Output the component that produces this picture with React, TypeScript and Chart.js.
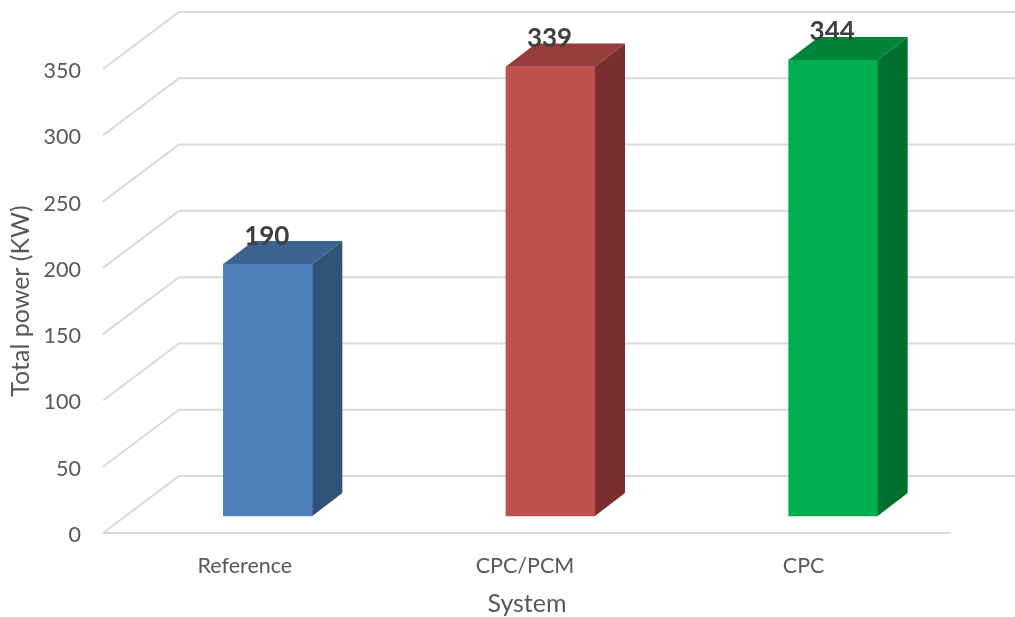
import React, { useEffect, useRef } from "react";
import { Chart, registerables } from "chart.js";

Chart.register(...registerables);

const categories = ["Reference", "CPC/PCM", "CPC"];
const totalPower = [190, 339, 344];
const frontColors = ["#4f81bd", "#c0504d", "#00b050"];
const topColors = ["#3b6291", "#953d3b", "#008439"];
const sideColors = ["#315378", "#7a2f2e", "#00702f"];

const FONT = "Lato, Carlito, Calibri, sans-serif";
const GRID = "#d9d9d9";
// 3D projection of the plot: wall depth, bar depth, and the bar's offset into the floor
const WALL = { dx: 76, dy: -57 };
const BAR_DEPTH = { dx: 30, dy: -23 };
const BAR_SHIFT = { dx: 23.5, dy: -17 };

const plot3d = {
  id: "plot3d",
  beforeDraw(chart: any) {
    // The reference's category captions are spaced slightly tighter than its bars.
    const xs = chart.scales.x;
    xs.getLabelItems().forEach((it: any, i: number) => {
      if (!it.__moved) {
        it.options.translation[0] += [0.5, -2, -6][i];
        it.__moved = true;
      }
    });
    chart.scales.y.getLabelItems().forEach((it: any) => {
      if (!it.__moved) {
        it.options.translation[1] += 2;
        it.__moved = true;
      }
    });

    const { ctx } = chart;
    const y = chart.scales.y;
    const { left, right } = chart.chartArea;
    ctx.save();
    ctx.strokeStyle = GRID;
    ctx.lineWidth = 2;
    y.ticks.forEach((t: any) => {
      const py = y.getPixelForValue(t.value);
      ctx.beginPath();
      ctx.moveTo(left, py);
      ctx.lineTo(left + WALL.dx, py + WALL.dy);
      ctx.lineTo(chart.width, py + WALL.dy);
      ctx.stroke();
    });
    const p0 = y.getPixelForValue(0);
    ctx.beginPath();
    ctx.moveTo(left, p0);
    ctx.lineTo(right, p0);
    ctx.stroke();
    ctx.restore();
  },
  beforeDatasetsDraw(chart: any) {
    chart.ctx.save();
    chart.ctx.translate(BAR_SHIFT.dx, BAR_SHIFT.dy);
  },
  afterDatasetsDraw(chart: any) {
    const { ctx } = chart;
    const meta = chart.getDatasetMeta(0);
    meta.data.forEach((bar: any, i: number) => {
      const half = bar.width / 2;
      const l = bar.x - half;
      const r = bar.x + half;
      const t = bar.y;
      const b = bar.base;
      ctx.fillStyle = topColors[i];
      ctx.beginPath();
      ctx.moveTo(l, t);
      ctx.lineTo(l + BAR_DEPTH.dx, t + BAR_DEPTH.dy);
      ctx.lineTo(r + BAR_DEPTH.dx, t + BAR_DEPTH.dy);
      ctx.lineTo(r, t);
      ctx.closePath();
      ctx.fill();
      ctx.fillStyle = sideColors[i];
      ctx.beginPath();
      ctx.moveTo(r, t);
      ctx.lineTo(r + BAR_DEPTH.dx, t + BAR_DEPTH.dy);
      ctx.lineTo(r + BAR_DEPTH.dx, b + BAR_DEPTH.dy);
      ctx.lineTo(r, b);
      ctx.closePath();
      ctx.fill();
    });
    ctx.fillStyle = "#404040";
    ctx.font = `bold 26px ${FONT}`;
    ctx.textAlign = "center";
    ctx.textBaseline = "middle";
    meta.data.forEach((bar: any, i: number) => {
      ctx.fillText(String(totalPower[i]), bar.x - 1, bar.y - 28);
    });
    ctx.restore();
  },
};

export default function App() {
  const ref = useRef<HTMLCanvasElement>(null);
  useEffect(() => {
    const chart = new Chart(ref.current!, {
      type: "bar",
      data: {
        labels: categories,
        datasets: [
          {
            label: "Total power (KW)",
            data: totalPower,
            backgroundColor: frontColors,
            borderWidth: 0,
            barThickness: 89,
            clip: false as any,
          },
        ],
      },
      options: {
        animation: false,
        responsive: false,
        maintainAspectRatio: false,
        layout: { padding: { top: 69, right: 64, left: 0, bottom: 0 } },
        plugins: { legend: { display: false }, tooltip: { enabled: false } },
        scales: {
          x: {
            grid: { display: false },
            border: { display: false },
            ticks: {
              color: "#595959",
              font: { family: FONT, size: 21.5 },
              padding: 12,
              maxRotation: 0,
            },
            title: {
              display: true,
              text: "System",
              color: "#595959",
              font: { family: FONT, size: 25 },
              padding: { top: 0, bottom: -2 },
            },
            afterFit(s: any) {
              s.height = 84;
            },
          },
          y: {
            min: 0,
            max: 350,
            grid: { display: false },
            border: { display: false },
            ticks: {
              stepSize: 50,
              color: "#595959",
              font: { family: FONT, size: 21.5 },
              padding: 14,
            },
            title: {
              display: true,
              text: "Total power (KW)",
              color: "#595959",
              font: { family: FONT, size: 25 },
              padding: { top: 6, bottom: 0 },
            },
            afterFit(s: any) {
              s.width = 103;
            },
          },
        },
      },
      plugins: [plot3d],
    } as any);
    return () => chart.destroy();
  }, []);
  return (
    <canvas
      ref={ref}
      width={1015}
      height={617}
      style={{ position: "fixed", left: 0, top: 0, width: 1015, height: 617, background: "#ffffff" }}
    />
  );
}
